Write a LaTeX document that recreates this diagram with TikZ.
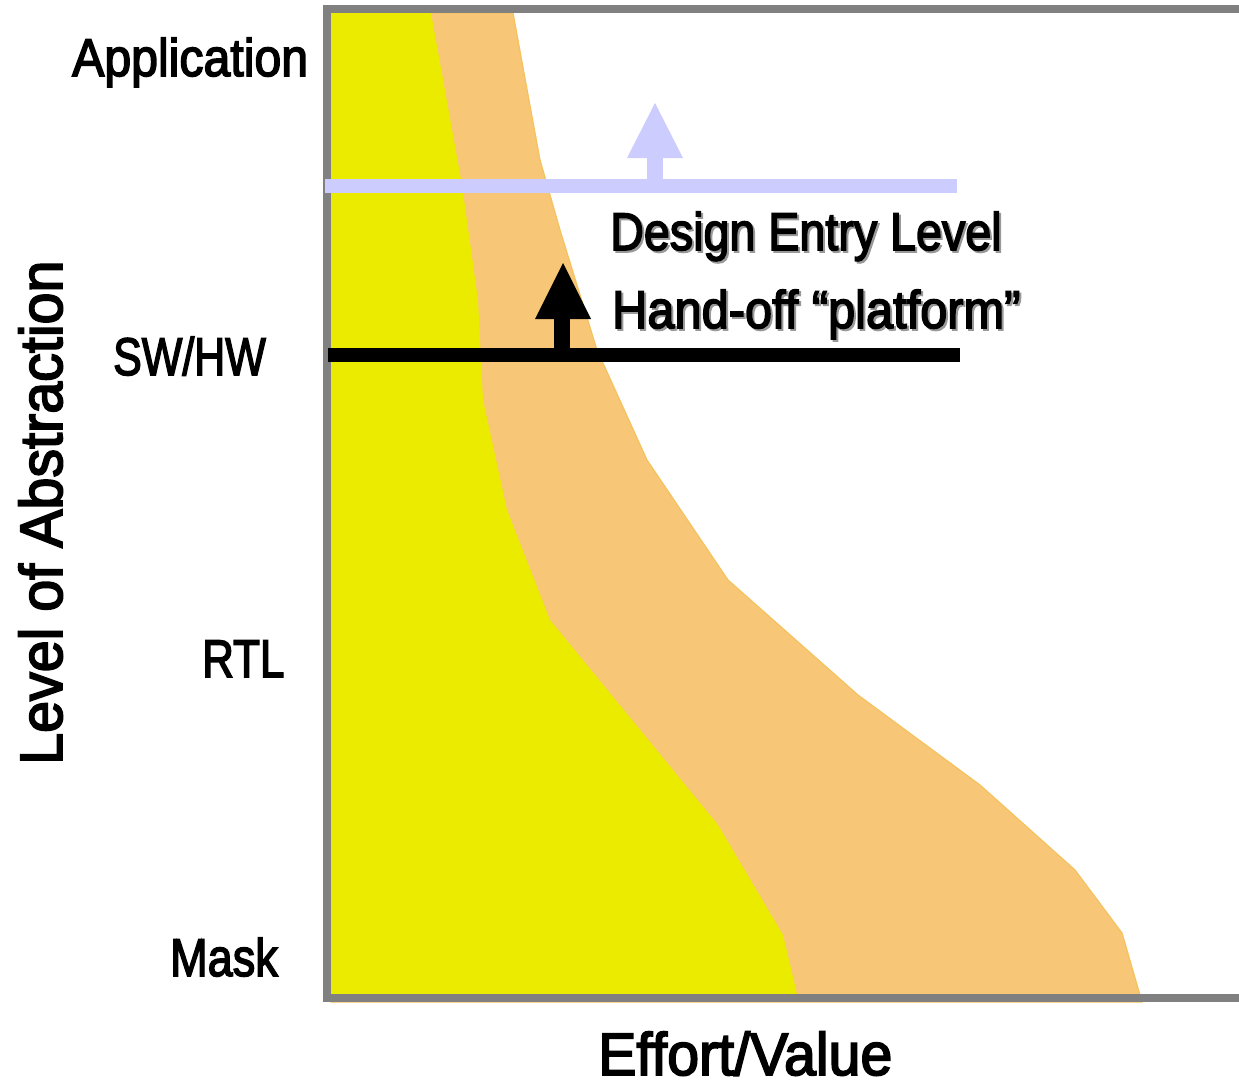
\documentclass[tikz,border=0pt]{standalone}
\usepackage{fontspec}
\setmainfont{Liberation Sans}[FakeBold=3]
\usepackage{graphicx}
\definecolor{frame}{HTML}{808080}
\definecolor{effortY}{HTML}{EBEB00}
\definecolor{effortO}{HTML}{F8C677}
\definecolor{effortOedge}{HTML}{F5C25E}
\definecolor{entry}{HTML}{CCCCFF}
\newcommand{\nar}[2]{\scalebox{#1}[1]{#2}}
\tikzset{
  lbl/.style={inner sep=0pt, anchor=base west, font=\fontsize{53}{60}\selectfont},
  biglbl/.style={inner sep=0pt, anchor=base west, font=\fontsize{60}{68}\selectfont},
  shadowed/.style={inner sep=0pt, anchor=base west, font=\fontsize{53}{60}\selectfont},
}
\begin{document}
\begin{tikzpicture}[x=1pt,y=-1pt]
\useasboundingbox[fill=white] (0,0) rectangle (1239,1087);

% outer band (effort range)
\fill[effortO, draw=effortOedge, line width=1.2] (331,13) -- (513,13) -- (540,160) -- (560,230) -- (597,350)
  -- (647,460) -- (728,580) -- (858,695) -- (980,785) -- (1075,870) -- (1122,933)
  -- (1142,1002) -- (331,1002) -- cycle;
% inner band
\fill[effortY] (331,13) -- (431,13) -- (462,185) -- (478,300) -- (483,400) -- (507,510)
  -- (550,620) -- (718,825) -- (783,935) -- (798,998) -- (331,998) -- cycle;

% axes frame
\draw[frame, line width=8, line join=miter] (1239,9) -- (327,9) -- (327,998) -- (1239,998);

% design entry level with upward arrow
\fill[entry] (325,179) rectangle (957,193);
\fill[entry] (647,158) rectangle (663,186);
\fill[entry] (627,158) -- (683,158) -- (655,103) -- cycle;

% hand-off platform with upward arrow
\fill[black] (328,348) rectangle (960,362);
\fill[black] (554,316) rectangle (570,355);
\fill[black] (535,319) -- (591,319) -- (563,263) -- cycle;

% level labels
\node[lbl] (app) at (72,76) {\nar{0.91}{Application}};
\node[lbl] (swhw) at (113,375) {\nar{0.81}{SW/HW}};
\node[lbl] (rtl) at (202,677) {\nar{0.83}{RTL}};
\node[lbl] (mask) at (170,976) {\nar{0.85}{Mask}};

% line labels with drop shadow
\node[shadowed, text=black!40] at (612,252) {\nar{0.88}{Design Entry Level}};
\node[shadowed] (del) at (610,250) {\nar{0.88}{Design Entry Level}};
\node[shadowed, text=black!40] at (614,330) {\nar{0.92}{Hand-off “platform”}};
\node[shadowed] (hop) at (612,328) {\nar{0.92}{Hand-off “platform”}};

% axis titles
\node[biglbl] (xt) at (598,1075) {\nar{0.955}{Effort/Value}};
\node[biglbl, rotate=90] (yt) at (62,765) {\nar{0.957}{Level of Abstraction}};
\end{tikzpicture}
\end{document}
